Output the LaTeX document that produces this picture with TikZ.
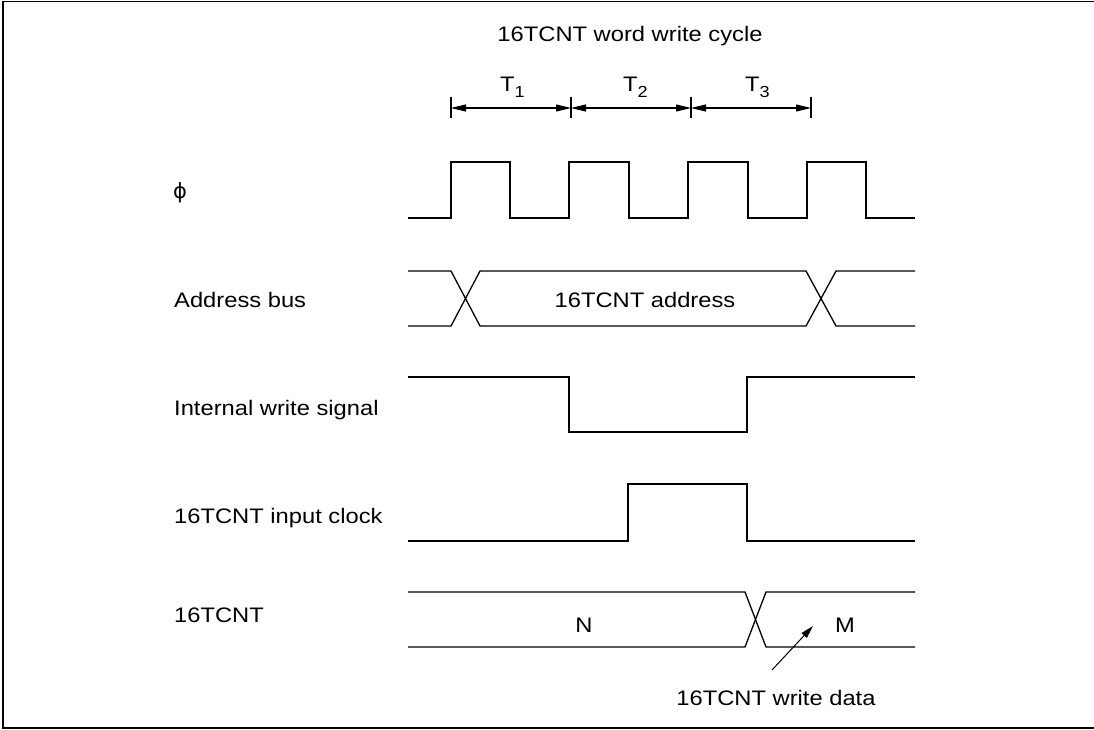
\documentclass[tikz,border=0pt]{standalone}
\usepackage{fontspec}
\usepackage{graphicx}
\setmainfont{Liberation Sans}
\newfontfamily\symf{DejaVu Sans}
\usetikzlibrary{arrows.meta}
\newcommand\stx[1]{\scalebox{1.13}[1]{#1}}
\newcommand\subx[1]{\raisebox{-6pt}{\fontsize{16}{18}\selectfont #1}}
\begin{document}
\begin{tikzpicture}[x=1pt,y=-1pt,
  lbl/.style={inner sep=0pt,font=\fontsize{21}{25}\selectfont},
  sig/.style={line width=1.3pt,line join=miter},
  dim/.style={line width=1.1pt,{Triangle[length=15pt,width=7pt]}-{Triangle[length=15pt,width=7pt]}},
  tickln/.style={line width=1.1pt},
  frame/.style={line width=1.8pt}]
\useasboundingbox (0,0) rectangle (1094,730);
% frame
\draw[frame] (1094,1.5) -- (3,1.5) -- (3,728) -- (1094,728);

% title and T labels
\node[lbl,anchor=base] (title) at (630,42) {\stx{16TCNT word write cycle}};
\node[lbl,anchor=base west] (t1) at (500,92) {\stx{T\subx{1}}};
\node[lbl,anchor=base west] (t2) at (623,92) {\stx{T\subx{2}}};
\node[lbl,anchor=base west] (t3) at (745,92) {\stx{T\subx{3}}};

% ticks
\foreach \n/\x in {a/451,b/571,c/691,d/811}{
  \coordinate (k\n) at (\x,108);
  \draw[tickln] (\x,97) -- (\x,118);
}
\draw[dim] (ka) -- (kb);
\draw[dim] (kb) -- (kc);
\draw[dim] (kc) -- (kd);

% signal labels
\node[lbl,anchor=base west] (lphi) at (173,198) {{\symf\fontsize{21}{25}\selectfont ϕ}};
\node[lbl,anchor=base west] (laddr) at (174,307) {\stx{Address bus}};
\node[lbl,anchor=base west] (lwr) at (174,415) {\stx{Internal write signal}};
\node[lbl,anchor=base west] (lclk) at (174,523) {\stx{16TCNT input clock}};
\node[lbl,anchor=base west] (lcnt) at (174,622) {\stx{16TCNT}};

% phi clock
\draw[sig] (408,218) -- (451,218) -- (451,162) -- (510,162) -- (510,218)
  -- (569,218) -- (569,162) -- (629,162) -- (629,218)
  -- (688,218) -- (688,162) -- (748,162) -- (748,218)
  -- (807,218) -- (807,162) -- (866,162) -- (866,218) -- (915,218);

% address bus
\draw[sig] (408,271) -- (451,271) -- (480,326) -- (806,326) -- (836,271) -- (915,271);
\draw[sig] (408,326) -- (451,326) -- (480,271) -- (806,271) -- (836,326) -- (915,326);
\node[lbl,anchor=base] (addr) at (645,307) {\stx{16TCNT address}};

% internal write signal
\draw[sig] (408,377) -- (569,377) -- (569,432) -- (747,432) -- (747,377) -- (915,377);

% input clock
\draw[sig] (408,541) -- (628,541) -- (628,484) -- (747,484) -- (747,541) -- (915,541);

% 16TCNT
\draw[sig] (408,592) -- (745,592) -- (766,647) -- (915,647);
\draw[sig] (408,647) -- (745,647) -- (766,592) -- (915,592);
\node[lbl,anchor=base] (n) at (584,632) {\stx{N}};
\node[lbl,anchor=base] (m) at (845,632) {\stx{M}};

% write data annotation
\node[lbl,anchor=base] (wd) at (776,705) {\stx{16TCNT write data}};
\coordinate (tail) at (772,670);
\coordinate (tip) at (813,626);
\draw[line width=1pt,-{Triangle[length=13pt,width=7pt]}] (tail) -- (tip);
\end{tikzpicture}
\end{document}
